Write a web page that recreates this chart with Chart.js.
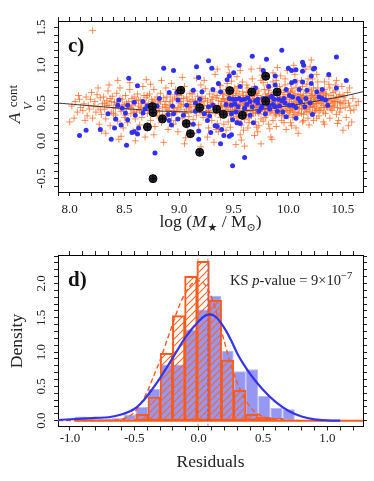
<!DOCTYPE html>
<html>
<head>
<meta charset="utf-8">
<script src="https://cdn.jsdelivr.net/npm/chart.js@4.4.1/dist/chart.umd.min.js"></script>
<style>
html,body{margin:0;padding:0;background:#fff}
#wrap{position:relative;width:374px;height:481px}
canvas{position:absolute;left:0}
#top{top:0}
#bot{top:240px}
</style>
</head>
<body>
<div id="wrap">
<canvas id="top" width="374" height="240"></canvas>
<canvas id="bot" width="374" height="241"></canvas>
</div>
<script>

// PANEL c) DATA

const massRange = [7.893, 10.683]
const avRange = [-0.678, 1.587]
const massTicks = [8.0, 8.5, 9.0, 9.5, 10.0, 10.5]
const avTicks = [-0.5, 0.0, 0.5, 1.0, 1.5]

const orangePts = [
[8.21,1.46],[8.00,0.25],[8.02,0.46],[8.05,0.52],[8.07,0.38],[8.09,0.55],[8.04,0.30],[8.10,0.44],[8.08,0.60],
[8.13,0.49],[8.15,0.58],[8.16,0.33],[8.18,0.42],[8.19,0.55],[8.14,0.27],[8.20,0.64],[8.21,0.30],[8.17,0.47],
[8.23,0.52],[8.24,0.38],[8.25,0.61],[8.26,0.45],[8.27,0.22],[8.28,0.57],[8.29,0.35],[8.30,0.49],[8.26,0.70],[8.29,0.13],
[8.31,0.58],[8.32,0.42],[8.33,0.29],[8.34,0.53],[8.35,0.66],[8.36,0.47],[8.37,0.20],[8.38,0.38],[8.39,0.59],[8.40,0.44],[8.36,0.74],[8.33,0.10],
[8.41,0.51],[8.42,0.34],[8.43,0.63],[8.44,0.26],[8.45,0.45],[8.46,0.70],[8.47,0.39],[8.48,0.55],[8.49,0.17],[8.50,0.48],[8.44,0.80],[8.47,0.06],[8.50,0.31],[8.45,0.02],
[8.51,0.60],[8.52,0.42],[8.53,0.24],[8.54,0.52],[8.55,0.68],[8.56,0.36],[8.57,0.47],[8.58,0.13],[8.59,0.58],[8.60,0.29],[8.55,0.77],[8.58,0.41],[8.60,0.50],[8.60,0.00],
[8.61,0.38],[8.62,0.62],[8.63,0.46],[8.64,0.21],[8.65,0.54],[8.66,0.31],[8.67,0.72],[8.68,0.43],[8.69,0.05],[8.70,0.57],[8.66,0.49],[8.62,0.15],[8.70,0.81],
[8.71,0.36],[8.72,0.49],[8.73,0.62],[8.74,0.27],[8.75,0.55],[8.76,0.41],[8.77,0.68],[8.78,0.19],[8.79,0.46],[8.80,0.33],[8.74,0.75],[8.77,0.08],[8.80,0.58],
[8.81,0.50],[8.82,0.39],[8.83,0.63],[8.84,0.24],[8.85,0.45],[8.86,0.57],[8.87,0.31],[8.88,0.70],[8.89,0.42],[8.90,0.15],[8.84,0.80],[8.88,0.52],[8.90,0.36],[8.86,-0.02],
[8.91,0.47],[8.92,0.61],[8.93,0.33],[8.94,0.54],[8.95,0.22],[8.96,0.43],[8.97,0.68],[8.98,0.38],[8.99,0.12],[9.00,0.50],[8.93,0.76],[8.97,0.27],[9.00,0.60],
[9.01,0.41],[9.02,0.56],[9.03,0.30],[9.04,0.48],[9.05,0.72],[9.06,0.36],[9.07,0.58],[9.08,0.19],[9.09,0.45],[9.10,0.63],[9.03,0.84],[9.06,0.04],[9.09,0.32],[9.10,0.52],[9.05,-0.04],
[9.11,0.40],[9.12,0.55],[9.13,0.28],[9.14,0.66],[9.15,0.46],[9.16,0.34],[9.17,0.59],[9.18,0.21],[9.19,0.51],[9.20,0.74],[9.13,0.10],[9.16,0.83],[9.20,0.38],[9.18,0.44],[9.20,-0.08],
[9.21,0.58],[9.22,0.31],[9.23,0.47],[9.24,0.69],[9.25,0.39],[9.26,0.53],[9.27,0.17],[9.28,0.62],[9.29,0.44],[9.30,0.27],[9.23,0.80],[9.26,0.05],[9.30,0.55],[9.25,0.35],
[9.31,0.49],[9.32,0.65],[9.33,0.36],[9.34,0.57],[9.35,0.23],[9.36,0.45],[9.37,0.74],[9.38,0.31],[9.39,0.52],[9.40,0.40],[9.33,0.88],[9.36,0.12],[9.40,0.62],[9.38,0.47],[9.32,-0.02],[9.35,0.95],
[9.41,0.55],[9.42,0.34],[9.43,0.68],[9.44,0.46],[9.45,0.25],[9.46,0.58],[9.47,0.40],[9.48,0.79],[9.49,0.50],[9.50,0.30],[9.43,0.14],[9.46,0.90],[9.50,0.63],[9.45,0.44],[9.48,0.36],[9.42,0.52],[9.45,0.98],
[9.51,0.47],[9.52,0.60],[9.53,0.32],[9.54,0.72],[9.55,0.42],[9.56,0.55],[9.57,0.21],[9.58,0.65],[9.59,0.38],[9.60,0.50],[9.53,0.85],[9.56,0.08],[9.60,0.28],[9.55,0.48],[9.58,0.43],[9.52,0.37],[9.57,0.01],[9.52,-0.05],[9.56,0.93],
[9.61,0.58],[9.62,0.41],[9.63,0.70],[9.64,0.30],[9.65,0.53],[9.66,0.46],[9.67,0.82],[9.68,0.36],[9.69,0.61],[9.70,0.44],[9.63,0.17],[9.66,0.95],[9.70,0.25],[9.65,0.39],[9.68,0.50],[9.62,0.55],[9.69,0.07],[9.60,-0.07],
[9.71,0.52],[9.72,0.38],[9.73,0.66],[9.74,0.45],[9.75,0.29],[9.76,0.57],[9.77,0.77],[9.78,0.41],[9.79,0.62],[9.80,0.34],[9.73,0.20],[9.76,0.87],[9.80,0.50],[9.75,0.48],[9.78,0.55],[9.72,0.12],[9.79,0.43],[9.74,0.96],[9.75,-0.04],
[9.81,0.59],[9.82,0.44],[9.83,0.71],[9.84,0.37],[9.85,0.52],[9.86,0.27],[9.87,0.64],[9.88,0.47],[9.89,0.80],[9.90,0.40],[9.83,0.16],[9.86,0.90],[9.90,0.56],[9.85,0.49],[9.88,0.33],[9.82,0.62],[9.87,0.43],[9.84,0.05],[9.85,0.02],[9.90,0.97],
[9.91,0.50],[9.92,0.36],[9.93,0.67],[9.94,0.45],[9.95,0.58],[9.96,0.24],[9.97,0.74],[9.98,0.42],[9.99,0.61],[10.00,0.33],[9.93,0.86],[9.96,0.52],[10.00,0.47],[9.95,0.39],[9.98,0.15],[9.92,0.56],[9.99,0.93],
[10.01,0.55],[10.02,0.40],[10.03,0.69],[10.04,0.31],[10.05,0.50],[10.06,0.62],[10.07,0.44],[10.08,0.78],[10.09,0.37],[10.10,0.57],[10.03,0.20],[10.06,0.88],[10.10,0.48],[10.05,0.35],[10.08,0.53],[10.02,0.64],[10.09,0.10],[10.04,0.46],[10.05,1.00],
[10.11,0.61],[10.12,0.43],[10.13,0.72],[10.14,0.35],[10.15,0.54],[10.16,0.66],[10.17,0.46],[10.18,0.82],[10.19,0.39],[10.20,0.58],[10.13,0.25],[10.16,0.95],[10.20,0.50],[10.15,0.41],[10.18,0.30],[10.12,0.56],[10.19,0.68],
[10.21,0.53],[10.22,0.45],[10.23,0.70],[10.24,0.38],[10.25,0.60],[10.26,0.49],[10.27,0.78],[10.28,0.33],[10.29,0.56],[10.30,0.44],[10.23,0.27],[10.26,0.88],[10.30,0.64],[10.25,0.52],[10.28,0.41],[10.22,0.62],[10.21,1.07],[10.20,0.98],
[10.31,0.58],[10.32,0.47],[10.33,0.68],[10.34,0.36],[10.35,0.54],[10.36,0.44],[10.37,0.75],[10.38,0.30],[10.39,0.60],[10.40,0.50],[10.33,0.22],[10.37,0.85],[10.40,0.40],[10.35,0.62],
[10.41,0.56],[10.42,0.45],[10.43,0.66],[10.44,0.35],[10.45,0.52],[10.46,0.27],[10.47,0.61],[10.48,0.43],[10.49,0.72],[10.50,0.49],[10.44,0.80],[10.47,0.38],
[10.51,0.58],[10.52,0.44],[10.53,0.31],[10.54,0.64],[10.55,0.50],[10.57,0.40],[10.58,0.25],[10.59,0.56],[10.60,0.41],[10.56,0.70],
[10.62,0.47],[10.64,0.52],[10.55,0.20],[10.50,0.14],[10.45,0.23],
[8.12,0.40],[8.22,0.46],[8.28,0.41],[8.34,0.47],[8.38,0.52],[8.42,0.43],[8.46,0.56],[8.52,0.50],[8.56,0.44],[8.61,0.53],
[8.64,0.40],[8.68,0.60],[8.72,0.42],[8.76,0.52],[8.79,0.38],[8.82,0.55],[8.85,0.35],[8.88,0.44],[8.92,0.52],[8.95,0.40],
[8.98,0.56],[9.02,0.46],[9.05,0.38],[9.08,0.53],[9.11,0.48],[9.14,0.42],[9.17,0.50],[9.21,0.43],[9.24,0.56],[9.27,0.40],
[9.29,0.51],[9.33,0.44],[9.35,0.60],[9.37,0.38],[9.39,0.46],[9.41,0.62],[9.43,0.41],[9.44,0.54],[9.46,0.49],[9.47,0.33],
[9.49,0.58],[9.51,0.41],[9.53,0.53],[9.54,0.46],[9.55,0.62],[9.57,0.35],[9.58,0.57],[9.59,0.47],[9.61,0.40],[9.62,0.64],
[9.63,0.48],[9.64,0.55],[9.66,0.33],[9.67,0.59],[9.68,0.44],[9.69,0.52],[9.71,0.45],[9.72,0.60],[9.73,0.36],[9.74,0.54],
[9.76,0.42],[9.77,0.50],[9.78,0.68],[9.79,0.31],[9.81,0.48],[9.82,0.53],[9.83,0.39],[9.84,0.60],[9.86,0.46],[9.87,0.55],
[9.88,0.37],[9.89,0.62],[9.91,0.44],[9.92,0.49],[9.93,0.58],[9.94,0.34],[9.96,0.64],[9.97,0.46],[9.98,0.54],[9.99,0.40],
[10.01,0.47],[10.02,0.58],[10.03,0.43],[10.04,0.66],[10.06,0.38],[10.07,0.55],[10.08,0.45],[10.09,0.62],[10.11,0.51],[10.12,0.36],
[10.13,0.58],[10.14,0.47],[10.16,0.42],[10.17,0.63],[10.18,0.52],[10.19,0.45],[10.21,0.60],[10.22,0.37],[10.23,0.49],[10.24,0.57],
[10.26,0.43],[10.27,0.62],[10.28,0.50],[10.29,0.40],[10.31,0.52],[10.32,0.60],[10.33,0.44],[10.34,0.56],[10.36,0.50],[10.38,0.45],
[10.39,0.53],[10.41,0.47],[10.43,0.52],[10.45,0.44],[10.46,0.58],[10.48,0.51],[10.52,0.53],[10.56,0.46],
[9.34,0.15],[9.41,0.22],[9.47,0.18],[9.54,0.27],[9.59,0.14],[9.64,0.24],[9.71,0.18],[9.77,0.26],[9.82,0.22],[9.89,0.19],
[9.94,0.27],[10.02,0.24],[10.07,0.17],[10.14,0.27],[10.19,0.21],[10.26,0.30],[10.32,0.25],[9.38,0.73],[9.44,0.76],[9.51,0.70],
[9.58,0.78],[9.62,0.74],[9.69,0.72],[9.75,0.80],[9.81,0.74],[9.86,0.78],[9.92,0.72],[9.97,0.82],[10.02,0.76],[10.07,0.71],
[10.12,0.80],[10.17,0.75],[10.22,0.82],[10.27,0.70],[10.33,0.78],[10.38,0.70],[10.43,0.74],
[9.22,0.52],[9.26,0.46],[9.28,0.37],[9.31,0.58],[9.34,0.41],[9.36,0.53],[9.39,0.35],[9.40,0.56],[9.42,0.45],[9.44,0.38],
[9.45,0.60],[9.47,0.51],[9.49,0.42],[9.50,0.56],[9.52,0.45],[9.53,0.66],[9.55,0.36],[9.56,0.50],[9.58,0.32],[9.59,0.60],
[9.61,0.49],[9.62,0.35],[9.64,0.47],[9.65,0.62],[9.67,0.40],[9.68,0.56],[9.70,0.37],[9.71,0.63],[9.72,0.47],[9.74,0.39],
[9.75,0.56],[9.77,0.45],[9.78,0.35],[9.80,0.58],[9.81,0.41],[9.82,0.67],[9.84,0.48],[9.85,0.40],[9.86,0.60],[9.88,0.52],
[9.89,0.35],[9.90,0.48],[9.92,0.62],[9.93,0.42],[9.95,0.50],[9.96,0.33],[9.97,0.57],[9.99,0.48],[10.00,0.65],[10.01,0.38],
[10.03,0.52],[10.04,0.41],[10.05,0.60],[10.07,0.50],[10.08,0.34],[10.10,0.42],[10.11,0.68],[10.12,0.50],[10.14,0.60],[10.15,0.47],
[10.17,0.38],[10.18,0.56],[10.20,0.44],[10.21,0.66],[10.23,0.55],[10.24,0.46],[10.25,0.40],[10.27,0.54],[10.29,0.63],[10.30,0.50],
[10.32,0.38],[10.34,0.62],[10.35,0.45],[10.37,0.55],[10.39,0.42],[10.41,0.64],[10.42,0.52],[10.44,0.58],[10.47,0.50],[10.50,0.60],
[8.32,0.50],[8.37,0.56],[8.40,0.36],[8.43,0.50],[8.48,0.47],[8.51,0.34],[8.54,0.45],[8.57,0.56],[8.59,0.38],[8.63,0.54],
[8.65,0.44],[8.69,0.50],[8.71,0.60],[8.73,0.45],[8.78,0.54],[8.81,0.43],[8.83,0.52],[8.87,0.48],[8.89,0.58],[8.91,0.40],
[8.94,0.46],[8.96,0.58],[8.99,0.44],[9.01,0.52],[9.04,0.56],[9.07,0.42],[9.10,0.45],[9.12,0.62],[9.15,0.53],[9.19,0.40]
]

const bluePts = [
[9.94,1.20],[10.44,1.11],[9.67,1.12],[9.80,1.08],[9.27,1.06],[10.13,1.04],[10.14,1.00],[9.55,1.00],
[8.86,0.96],[8.95,0.93],[9.16,0.98],[9.30,0.96],[9.46,0.86],[9.50,0.90],[9.77,0.93],[9.78,0.89],
[10.00,0.96],[10.03,0.93],[10.07,0.94],[10.13,0.92],[10.23,0.95],[10.24,0.96],[10.21,0.86],[10.13,0.78],
[10.37,0.88],[10.53,0.80],[8.54,0.83],[9.18,0.84],[9.36,0.76],[9.44,0.81],[9.88,0.86],[10.03,0.77],
[10.06,0.79],[8.62,0.73],[8.91,0.64],[8.98,0.64],[9.13,0.67],[9.21,0.65],[9.31,0.68],[9.38,0.65],
[9.56,0.72],[9.70,0.70],[9.82,0.72],[9.88,0.74],[9.98,0.68],[10.10,0.68],[10.17,0.67],[10.21,0.76],
[10.26,0.65],[10.31,0.68],[10.44,0.70],[8.45,0.54],[8.59,0.51],[8.67,0.52],[8.82,0.56],[8.99,0.54],
[9.19,0.55],[9.46,0.56],[9.49,0.55],[9.52,0.55],[9.55,0.56],[9.57,0.54],[9.60,0.55],[9.63,0.57],
[9.65,0.52],[9.70,0.53],[9.72,0.55],[9.77,0.56],[9.80,0.56],[9.84,0.58],[9.85,0.59],[9.87,0.55],
[9.91,0.55],[9.94,0.53],[9.96,0.56],[10.01,0.60],[10.04,0.58],[10.09,0.56],[10.28,0.58],[10.31,0.56],
[10.16,0.56],[8.44,0.47],[8.48,0.43],[8.53,0.47],[8.69,0.42],[8.71,0.46],[8.80,0.46],[8.94,0.46],
[9.07,0.47],[9.15,0.50],[9.27,0.45],[9.31,0.47],[9.43,0.48],[9.48,0.47],[9.51,0.49],[9.54,0.45],
[9.60,0.43],[9.62,0.48],[9.76,0.46],[9.82,0.47],[9.86,0.48],[9.88,0.45],[9.92,0.46],[10.01,0.47],
[10.04,0.47],[10.15,0.45],[8.35,0.36],[8.51,0.37],[8.60,0.34],[8.67,0.37],[8.90,0.35],[8.95,0.36],
[9.04,0.34],[9.15,0.39],[9.23,0.36],[9.28,0.33],[9.48,0.36],[9.52,0.38],[9.56,0.33],[9.65,0.34],
[9.73,0.39],[9.79,0.36],[9.90,0.39],[9.95,0.38],[10.22,0.35],[8.42,0.29],[8.53,0.28],[8.28,0.15],
[8.38,0.02],[8.47,0.21],[8.57,0.11],[8.62,0.09],[8.59,0.12],[8.63,0.17],[8.91,0.27],[8.93,0.21],
[8.99,0.29],[9.13,0.22],[9.26,0.27],[9.33,0.20],[9.35,0.19],[9.49,0.28],[9.53,0.24],[9.56,0.23],
[9.68,0.24],[8.09,0.07],[8.15,0.14],[8.41,0.17],[8.52,-0.06],[8.78,-0.16],[9.18,0.13],[9.18,0.02],
[9.29,0.11],[9.39,0.15],[9.38,-0.04],[9.41,0.07],[9.46,0.06],[9.48,0.08],[9.60,-0.22],[9.49,-0.33],
[9.72,0.50],[9.75,0.43],[9.83,0.42],[9.97,0.50],[10.07,0.44],[10.11,0.52],[10.20,0.50],[10.34,0.54],
[10.36,0.47],[9.98,0.32],[10.07,0.30],[9.67,0.45]
]

const blackPts = [
[8.756,0.453],[8.762,0.373],[8.711,0.184],[8.848,0.290],[9.016,0.669],[9.067,0.228],
[9.104,0.095],[9.189,0.440],[9.189,-0.152],[8.762,-0.501],[9.345,0.418],[9.406,0.351],
[9.464,0.665],[9.580,0.338],[9.665,0.647],[9.793,0.855],[9.793,0.524],[9.897,0.647]
]

const fitCurve = [
[7.893,0.50],[8.18,0.465],[8.48,0.43],[8.79,0.398],[9.09,0.382],[9.24,0.379],[9.40,0.383],
[9.70,0.41],[9.85,0.435],[10.01,0.465],[10.16,0.50],[10.31,0.54],[10.50,0.59],[10.683,0.65]
]

// PANEL d) DATA

const resRange = [-1.093, 1.277]
const densRange = [-0.085, 2.415]
const resTicks = [-1.0, -0.5, 0.0, 0.5, 1.0]
const densTicks = [0.0, 0.5, 1.0, 1.5, 2.0]

const binEdges = [-0.963,-0.868,-0.773,-0.678,-0.583,-0.488,-0.393,-0.298,-0.203,-0.108,
  -0.013,0.082,0.177,0.272,0.367,0.462,0.557,0.652,0.747]
const blueHist = [0.06,0.03,0.03,0.04,0.09,0.20,0.46,0.82,0.82,1.33,1.62,1.82,1.02,0.72,0.75,0.36,0.19,0.165]
const orangeHist = [0,0,0.005,0.01,0.02,0.09,0.34,0.98,1.53,2.10,2.32,1.75,0.88,0.44,0.09,0.045,0.03,0.01]

const blueDens = [
[-1.093,0.01],[-0.9,0.03],[-0.8,0.04],[-0.7,0.05],[-0.6,0.09],[-0.5,0.17],[-0.45,0.25],[-0.4,0.36],
[-0.3,0.62],[-0.2,0.92],[-0.1,1.22],[0.0,1.45],[0.05,1.53],[0.09,1.55],[0.14,1.50],[0.2,1.35],
[0.25,1.18],[0.3,0.98],[0.35,0.82],[0.4,0.68],[0.5,0.45],[0.6,0.27],[0.7,0.14],[0.8,0.06],
[0.9,0.02],[1.0,0.005],[1.1,0]
]
const orangeDens = [
[-1.093,0],[-0.7,0.005],[-0.6,0.02],[-0.5,0.12],[-0.45,0.25],[-0.4,0.42],[-0.35,0.65],[-0.3,0.88],
[-0.25,1.15],[-0.2,1.42],[-0.15,1.68],[-0.1,1.87],[-0.05,2.00],[0.0,2.04],[0.05,1.98],[0.1,1.80],
[0.15,1.50],[0.2,1.15],[0.25,0.82],[0.3,0.55],[0.35,0.35],[0.4,0.2],[0.45,0.11],[0.5,0.06],
[0.6,0.015],[0.7,0.005],[0.8,0]
]
const blueMedian = 0.072
const orangeMedian = -0.005


// HELPERS

const SERIF = '"Liberation Serif", "DejaVu Serif", serif'
const xy = a => a.map(p => ({x:p[0], y:p[1]}))

function minorTicks(min,max){
  const out = []
  for(let k = Math.ceil(min*10 - 1e-6); k <= Math.floor(max*10 + 1e-6); k++) out.push(k/10)
  return out
}

function side(range, position, size){
  return {
    type:'linear', position, min:range[0], max:range[1], offset:false,
    axis: (position === 'top' || position === 'bottom') ? 'x' : 'y',
    afterBuildTicks: s => { s.ticks = minorTicks(range[0], range[1]).map(v => ({value:v})) },
    afterFit: s => { if (s.isHorizontal()) s.height = size; else s.width = size },
    ticks:{display:false},
    grid:{display:true, drawOnChartArea:false, drawTicks:true, tickLength:4, color:'#222', offset:false},
    border:{display:true, color:'#000', width:1}
  }
}

function rich(ctx, parts, x, y, align){
  let w = 0
  parts.forEach(p => { ctx.font = p.f; w += ctx.measureText(p.t).width + (p.dx || 0) })
  let cx = align === 'center' ? x - w/2 : x
  parts.forEach(p => {
    ctx.font = p.f
    cx += (p.dx || 0)
    ctx.fillText(p.t, cx, y + (p.dy || 0))
    cx += ctx.measureText(p.t).width
  })
}

function tickLabels(chart, xs, ys, xBase, yBase){
  const ctx = chart.ctx
  ctx.save()
  ctx.fillStyle = '#222'
  ctx.font = '13px ' + SERIF
  ctx.textAlign = 'center'
  ctx.textBaseline = 'alphabetic'
  xs.forEach(v => ctx.fillText(v.toFixed(1), chart.scales.x.getPixelForValue(v), xBase))
  ys.forEach(v => {
    ctx.save()
    ctx.translate(yBase, chart.scales.y.getPixelForValue(v))
    ctx.rotate(-Math.PI/2)
    ctx.fillText(v.toFixed(1), 0, 0)
    ctx.restore()
  })
  ctx.restore()
}


// PANEL c)

const topText = {
  id:'topText',
  afterDraw(chart){
    const ctx = chart.ctx
    tickLabels(chart, massTicks, avTicks, 213, 45)
    ctx.save()
    ctx.fillStyle = '#111'
    ctx.textBaseline = 'alphabetic'
    ctx.font = 'bold 21px ' + SERIF
    ctx.fillText('c)', 68, 51.5)
    ctx.fillStyle = '#222'
    const big = '17.5px ' + SERIF, bigI = 'italic 17.5px ' + SERIF, sm = '11px ' + SERIF + ', "DejaVu Sans"'
    rich(ctx, [
      {t:'log (', f:big}, {t:'M', f:bigI}, {t:'\u2605', f:sm, dy:4, dx:1},
      {t:' / M', f:big}, {t:'\u2299', f:sm, dy:4}, {t:')', f:big}
    ], 210.5, 227, 'center')
    ctx.translate(20, 123.3)
    ctx.rotate(-Math.PI/2)
    ctx.textAlign = 'left'
    ctx.font = 'italic 17.5px ' + SERIF
    ctx.fillText('A', 0, 0)
    ctx.font = 'italic 12.5px ' + SERIF
    ctx.fillText('V', 13.3, 11.7)
    ctx.font = '13px ' + SERIF
    ctx.fillText('cont', 16, -3.3)
    ctx.restore()
  }
}

new Chart(document.getElementById('top'), {
  type:'scatter',
  data:{datasets:[
    {label:'fit', type:'line', data:xy(fitCurve), borderColor:'#333', borderWidth:1,
      pointRadius:0, tension:0.4, order:3.5},
    {label:'galaxies', data:xy(orangePts), pointStyle:'cross', pointRadius:3.4,
      borderColor:'rgba(255,100,25,0.72)', borderWidth:1, order:4},
    {label:'sample', data:xy(bluePts), pointStyle:'circle', pointRadius:2.5,
      backgroundColor:'#3030f4', borderWidth:0, order:3},
    {label:'highlight', data:xy(blackPts), pointStyle:'circle', pointRadius:4,
      backgroundColor:'#22222e', borderColor:'#000', borderWidth:1, order:1},
    {label:'highlight cross', data:xy(blackPts), pointStyle:'cross', pointRadius:3,
      borderColor:'#000', borderWidth:1, order:0}
  ]},
  options:{
    responsive:false, animation:false, events:[], layout:{padding:0},
    plugins:{legend:{display:false}, tooltip:{enabled:false}},
    scales:{
      x: side(massRange, 'bottom', 48),
      x2: side(massRange, 'top', 21),
      y: side(avRange, 'left', 58),
      y2: side(avRange, 'right', 11)
    }
  },
  plugins:[topText]
})


// PANEL d)

const botCanvas = document.getElementById('bot')
const tile = document.createElement('canvas')
tile.width = tile.height = 7
const tg = tile.getContext('2d')
tg.strokeStyle = '#ff6420'
tg.lineWidth = 1.1
tg.beginPath()
tg.moveTo(0,7); tg.lineTo(7,0)
tg.moveTo(-1,1); tg.lineTo(1,-1)
tg.moveTo(6,8); tg.lineTo(8,6)
tg.stroke()
const hatch = botCanvas.getContext('2d').createPattern(tile, 'repeat')

const centers = blueHist.map((h,i) => (binEdges[i] + binEdges[i+1]) / 2)

const botText = {
  id:'botText',
  afterDraw(chart){
    const ctx = chart.ctx
    tickLabels(chart, resTicks, densTicks, 201.5, 45)
    ctx.save()
    ctx.fillStyle = '#111'
    ctx.textBaseline = 'alphabetic'
    ctx.font = 'bold 21px ' + SERIF
    ctx.fillText('d)', 68, 46)
    ctx.fillStyle = '#222'
    const f = '14.5px ' + SERIF
    rich(ctx, [
      {t:'KS ', f}, {t:'p', f:'italic 14.5px ' + SERIF}, {t:'-value = 9\u00d710', f},
      {t:'\u22127', f:'10.5px ' + SERIF, dy:-6}
    ], 230, 44.5, 'left')
    ctx.font = '17.5px ' + SERIF
    ctx.textAlign = 'center'
    ctx.fillText('Residuals', 210.5, 226.5)
    ctx.translate(22, 101)
    ctx.rotate(-Math.PI/2)
    ctx.fillText('Density', 0, 0)
    ctx.restore()
  }
}

new Chart(botCanvas, {
  type:'bar',
  data:{datasets:[
    {label:'blue hist', data:centers.map((c,i) => ({x:c, y:blueHist[i]})),
      backgroundColor:'rgba(45,45,232,0.5)', borderColor:'rgba(60,60,230,0.35)', borderWidth:1,
      borderSkipped:false, inflateAmount:0, order:6},
    {label:'orange hist', data:centers.map((c,i) => ({x:c, y:orangeHist[i]})),
      backgroundColor:hatch, borderColor:'#ff5a1a', borderWidth:1,
      borderSkipped:false, inflateAmount:0.5, order:5},
    {label:'orange base', type:'line', data:[{x:binEdges[0], y:0}, {x:resRange[1], y:0}],
      borderColor:'#ff5a1a', borderWidth:2, pointRadius:0, order:4.5},
    {label:'orange median', type:'line', data:[{x:orangeMedian, y:densRange[0]}, {x:orangeMedian, y:densRange[1]}],
      borderColor:'rgba(255,110,50,0.8)', borderWidth:1, borderDash:[3,2], pointRadius:0, order:4},
    {label:'blue median', type:'line', data:[{x:blueMedian, y:densRange[0]}, {x:blueMedian, y:densRange[1]}],
      borderColor:'rgba(90,90,240,0.8)', borderWidth:1, borderDash:[3,2], pointRadius:0, order:3},
    {label:'orange density', type:'line', data:xy(orangeDens), borderColor:'#ff5a1a', borderWidth:1.4,
      borderDash:[5,3], pointRadius:0, cubicInterpolationMode:'monotone', order:2},
    {label:'blue density', type:'line', data:xy(blueDens), borderColor:'#3434ea', borderWidth:2.2,
      pointRadius:0, cubicInterpolationMode:'monotone', order:1}
  ]},
  options:{
    responsive:false, animation:false, events:[], layout:{padding:0},
    datasets:{bar:{barPercentage:1, categoryPercentage:1, grouped:false}},
    plugins:{legend:{display:false}, tooltip:{enabled:false}},
    scales:{
      x: side(resRange, 'bottom', 54.5),
      x2: side(resRange, 'top', 15),
      y: side(densRange, 'left', 58),
      y2: side(densRange, 'right', 11)
    }
  },
  plugins:[botText]
})

</script>
</body>
</html>
